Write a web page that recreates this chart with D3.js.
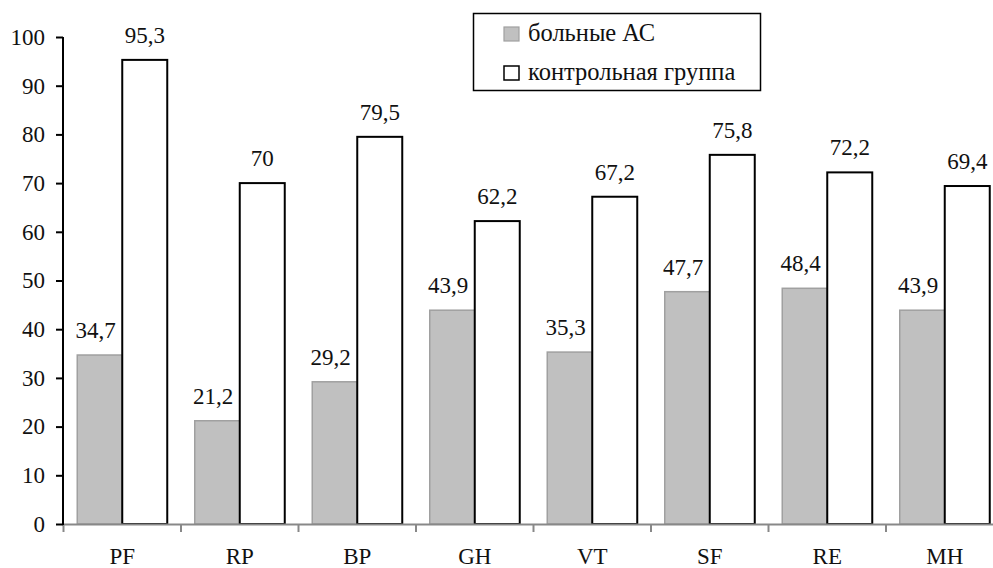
<!DOCTYPE html>
<html><head><meta charset="utf-8">
<script src="https://cdn.jsdelivr.net/npm/d3@7"></script>
<style>
html,body{margin:0;padding:0;background:#fff;overflow:hidden}
</style></head>
<body><svg id="c" width="993" height="568"></svg>
<script>
const categories=["PF","RP","BP","GH","VT","SF","RE","MH"];
const patients=[34.7,21.2,29.2,43.9,35.3,47.7,48.4,43.9];
const controls=[95.3,70,79.5,62.2,67.2,75.8,72.2,69.4];
const seriesNames=["больные АС","контрольная группа"];
const yTicks=[0,10,20,30,40,50,60,70,80,90,100];

const FONT='"Liberation Serif", "Times New Roman", serif';
const svg=d3.select("#c");
const x=d3.scaleBand().domain(categories).range([63.5,1003.5]).padding(0);
const y=d3.scaleLinear().domain([0,100]).range([524,37]);
const bw=x.bandwidth()*0.383;
const fmt=v=>String(v).replace(".",",");
const styleText=s=>s.style("font-family",FONT).style("font-size","23px").style("fill","#111");

const g=svg.append("g");
categories.forEach((c,i)=>{
  const cx=x(c)+x.bandwidth()/2;
  g.append("rect").attr("x",cx-bw).attr("y",y(patients[i])).attr("width",bw).attr("height",y(0)-y(patients[i]))
   .attr("fill","#c0c0c0").attr("stroke","#a0a0a0").attr("stroke-width",1.5);
  g.append("rect").attr("x",cx).attr("y",y(controls[i])).attr("width",bw).attr("height",y(0)-y(controls[i]))
   .attr("fill","#fff").attr("stroke","#000").attr("stroke-width",2);
  g.append("text").attr("x",cx-bw/2-4).attr("y",y(patients[i])-17).attr("text-anchor","middle")
   .call(styleText).text(fmt(patients[i]));
  g.append("text").attr("x",cx+bw/2).attr("y",y(controls[i])-17).attr("text-anchor","middle")
   .call(styleText).text(fmt(controls[i]));
});

// x axis
const xa=svg.append("g");
xa.append("line").attr("x1",63).attr("x2",1004).attr("y1",524.5).attr("y2",524.5).attr("stroke","#888").attr("stroke-width",2);
const bounds=categories.map(c=>x(c)).concat([x.range()[1]]);
xa.selectAll("line.t").data(bounds).join("line").attr("class","t")
  .attr("x1",d=>d).attr("x2",d=>d).attr("y1",524).attr("y2",532).attr("stroke","#888").attr("stroke-width",2);
xa.selectAll("text").data(categories).join("text")
  .attr("x",d=>x(d)+x.bandwidth()/2).attr("y",564).attr("text-anchor","middle").call(styleText).text(d=>d);

// y axis
const ya=svg.append("g").attr("transform","translate(63,0)")
  .call(d3.axisLeft(y).tickValues(yTicks).tickSize(7).tickPadding(11).tickFormat(d3.format("d")));
ya.select(".domain").attr("stroke","#000").attr("stroke-width",2).attr("d","M0,37V525");
ya.selectAll(".tick line").attr("stroke","#000").attr("stroke-width",2);
ya.selectAll(".tick text").call(styleText);

// legend
const lg=svg.append("g");
lg.append("rect").attr("x",473.5).attr("y",13.5).attr("width",287).attr("height",77).attr("fill","#fff").attr("stroke","#000").attr("stroke-width",1.5);
lg.append("rect").attr("x",504).attr("y",27).attr("width",15).attr("height",14).attr("fill","#c0c0c0").attr("stroke","#a0a0a0").attr("stroke-width",1.2);
lg.append("rect").attr("x",504).attr("y",66).attr("width",15).attr("height",14).attr("fill","#fff").attr("stroke","#000").attr("stroke-width",1.5);
lg.append("text").attr("x",528).attr("y",41).call(styleText).style("font-size","24.5px").text(seriesNames[0]);
lg.append("text").attr("x",528).attr("y",80).call(styleText).style("font-size","24.5px").text(seriesNames[1]);
</script></body></html>
